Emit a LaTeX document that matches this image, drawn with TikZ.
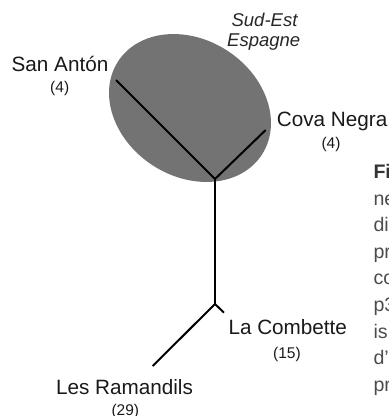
\documentclass[tikz,border=0pt]{standalone}
\usepackage{fontspec}
\setmainfont{Liberation Sans}
\begin{document}
\begin{tikzpicture}[x=1pt,y=-1pt,
  branch/.style={line width=2pt,line cap=butt,line join=miter},
  site/.style={inner sep=0pt,anchor=base,text=black!90,font=\fontsize{20.7}{24}\selectfont},
  count/.style={inner sep=0pt,anchor=base,text=black!90,font=\fontsize{15.5}{18}\selectfont},
  region/.style={inner sep=0pt,anchor=base,text=black!85,font=\fontsize{18.5}{21}\selectfont\itshape},
  caption/.style={inner sep=0pt,anchor=base west,text=black!70,font=\fontsize{19.6}{24}\selectfont}]
\useasboundingbox (0,0) rectangle (389,416);
\clip (0,0) rectangle (389,416);
% group ellipse
\fill[fill={rgb,255:red,115;green,115;blue,115},rotate around={-33:(190,108)}]
  (190,108) ellipse [x radius=85.7pt, y radius=68.4pt];
% tree
\coordinate (sa) at (116,80);
\coordinate (cn) at (265.7,130);
\coordinate (j1) at (215,179);
\coordinate (j2) at (215,304);
\coordinate (lc) at (224,312.7);
\coordinate (lr) at (152.7,366);
\draw[branch] (sa) -- (j1) -- (cn);
\draw[branch] (j1) -- (j2);
\draw[branch] (lr) -- (j2) -- (lc);
% labels
\node[site] (tsa) at (60,71.7) {San Antón};
\node[count] (nsa) at (59.7,92) {(4)};
\node[site,anchor=base west] (tcn) at (276.7,126.7) {Cova Negra};
\node[count] (ncn) at (331,148.6) {(4)};
\node[site,anchor=base west] (tlc) at (228.3,334) {La Combette};
\node[count] (nlc) at (287,358) {(15)};
\node[site] (tlr) at (124.5,394) {Les Ramandils};
\node[count] (nlr) at (125.3,415.5) {(29)};
\node[region] (r1) at (264.5,26) {Sud-Est};
\node[region] (r2) at (263.7,46.7) {Espagne};
% truncated caption
\node[caption,font=\fontsize{19.6}{24}\selectfont\bfseries,text=black!80] (c1) at (373.3,178.3) {Fi};
\node[caption] (c2) at (373.3,205) {ne};
\node[caption] (c3) at (373.3,231.6) {di};
\node[caption] (c4) at (373.3,258.2) {pr};
\node[caption] (c5) at (373.3,284.8) {co};
\node[caption] (c6) at (373.3,311.4) {p3};
\node[caption] (c7) at (373.3,338) {is};
\node[caption] (c8) at (373.3,364.6) {d’};
\node[caption] (c9) at (373.3,391.2) {pr};
\end{tikzpicture}
\end{document}
